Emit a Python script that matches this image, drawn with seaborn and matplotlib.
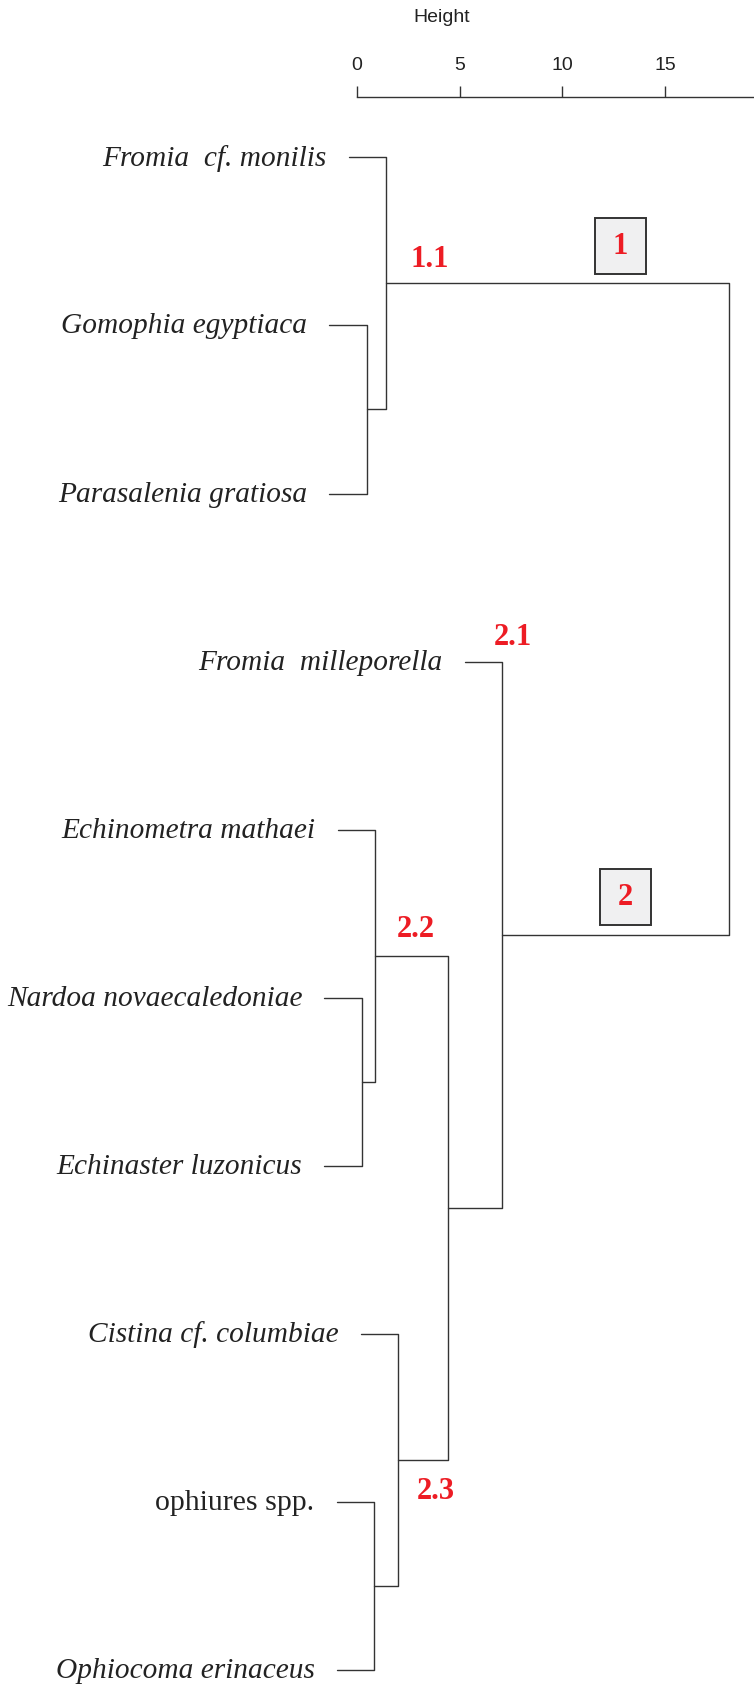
import matplotlib
matplotlib.use("Agg")
import matplotlib.pyplot as plt
from matplotlib.patches import Rectangle
import numpy as np
import pandas as pd
import seaborn as sns

# leaves, top to bottom
leaves = ["Fromia  cf. monilis", "Gomophia egyptiaca", "Parasalenia gratiosa",
          "Fromia  milleporella", "Echinometra mathaei", "Nardoa novaecaledoniae",
          "Echinaster luzonicus", "Cistina cf. columbiae", "ophiures spp.",
          "Ophiocoma erinaceus"]
leaf_italic = [True, True, True, True, True, True, True, True, False, True]

# linkage rows: child a, child b, height (node ids >= 10 are earlier rows)
link_a = [1, 5, 8, 4, 0, 7, 13, 3, 14]
link_b = [2, 6, 9, 11, 10, 12, 15, 16, 17]
link_h = [0.48, 0.24, 0.84, 0.89, 1.41, 2.00, 4.45, 7.07, 18.1]

ticks = [0, 5, 10, 15]

# cluster labels (text, height, y position)
grp_text = ["1.1", "2.1", "2.2", "2.3"]
grp_h = [3.57, 7.58, 2.89, 3.83]
grp_y = [0.60, 2.85, 4.585, 7.93]
box_text = ["1", "2"]
box_h = [12.81, 13.08]
box_y = [0.525, 4.40]

sns.set_theme(style="white")
plt.rcParams['font.family'] = ['Liberation Serif', 'DejaVu Serif']

n = len(leaves)
hang = 0.1 * max(link_h)
node_y = {i: float(i) for i in range(n)}
node_x = {}
parent_h = {}
for k, (a, b, h) in enumerate(zip(link_a, link_b, link_h)):
    node_y[n + k] = (node_y[a] + node_y[b]) / 2
    node_x[n + k] = h
    parent_h[a] = h
    parent_h[b] = h

rows = []
for k, (a, b, h) in enumerate(zip(link_a, link_b, link_h)):
    xa = node_x.get(a, h - hang)
    xb = node_x.get(b, h - hang)
    for x, y in [(xa, node_y[a]), (h, node_y[a]), (h, node_y[b]), (xb, node_y[b])]:
        rows.append({"x": x, "y": y, "seg": k})
df = pd.DataFrame(rows)

fig = plt.figure(figsize=(7.54, 16.90), dpi=100)
ax = fig.add_axes([0, 0, 1, 1])
sns.lineplot(data=df, x="x", y="y", units="seg", estimator=None, sort=False,
             color="#333333", lw=1.0, ax=ax)
ax.set_xlim(-17.36, 19.33)
ax.set_ylim(9.112, -0.942)
ax.axis("off")

for i, name in enumerate(leaves):
    ax.annotate(name, xy=(parent_h[i] - hang, i), xytext=(-16, 0),
                textcoords="offset points", ha="right", va="center",
                fontsize=21.2 if leaf_italic[i] else 21.5,
                style="italic" if leaf_italic[i] else "normal",
                color="#222222")

for t, h, y in zip(grp_text, grp_h, grp_y):
    ax.text(h, y, t, color="#ED1C24", fontsize=22, fontweight="bold",
            ha="center", va="center")

for t, h, y in zip(box_text, box_h, box_y):
    w, hh = 51 / 20.55, 56 / 168.1
    ax.add_patch(Rectangle((h - w / 2, y - hh / 2), w, hh, fc="#f0f0f1",
                           ec="#333333", lw=1.4, zorder=3))
    ax.text(h, y, t, color="#ED1C24", fontsize=22, fontweight="bold",
            ha="center", va="center", zorder=4)

# height axis on top
axt = fig.add_axes([0, 1 - 98 / 1690, 1, 0])
axt.set_xlim(-17.36, 19.33)
axt.patch.set_visible(False)
for s in ["left", "right", "bottom"]:
    axt.spines[s].set_visible(False)
axt.spines["top"].set_bounds(0, 19.33)
axt.spines["top"].set_color("#333333")
axt.spines["top"].set_linewidth(1.0)
axt.set_yticks([])
axt.set_xticks(ticks)
axt.set_xticklabels([str(t) for t in ticks])
axt.tick_params(axis="x", top=True, labeltop=True, bottom=False, labelbottom=False,
                direction="out", length=8, width=1.0, color="#333333", pad=9,
                labelsize=14, labelcolor="#222222")
for lbl in axt.get_xticklabels():
    lbl.set_family("Liberation Sans")
fig.text(442 / 754, 1 - 17 / 1690, "Height", ha="center", va="center",
         fontsize=14, family="Liberation Sans", color="#222222")

fig.savefig("out.png", dpi=100)
